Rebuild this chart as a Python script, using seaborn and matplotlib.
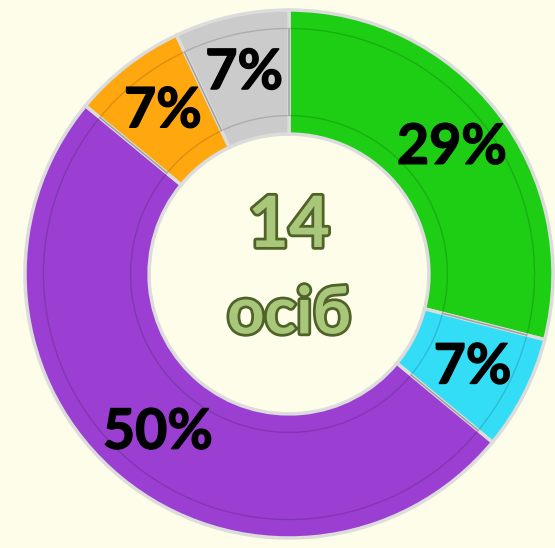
import matplotlib
matplotlib.use("Agg")
import os
import matplotlib.pyplot as plt
import matplotlib.patheffects as pe
from matplotlib import font_manager as fm
import seaborn as sns
import numpy as np

# Data
categories = ["A", "B", "C", "D", "E"]
shares = [29, 7, 50, 7, 7]
labels = ["29%", "7%", "50%", "7%", "7%"]
colors_hex = ["#1DCE14", "#33DDF6", "#9A3FD2", "#FFA70F", "#CBCBCB"]
total_people = "14"
unit_label = "осіб"

sns.set_theme(style="white")
plt.rcParams['font.family'] = ['Lato', 'DejaVu Sans']


def find_font(keys, exclude):
    for f in sorted(fm.findSystemFonts()):
        b = os.path.basename(f).lower()
        if all(k in b for k in keys) and not any(e in b for e in exclude):
            return f
    return None


bold_file = find_font(["lato", "bold"], ["italic", "semi", "extra", "hairline", "light", "black"])
if bold_file:
    label_fp = fm.FontProperties(fname=bold_file)
else:
    label_fp = fm.FontProperties(family=["Lato", "DejaVu Sans"], weight="bold", style="normal")

palette = sns.color_palette(colors_hex)
bg = "#FEFDE9"

fig = plt.figure(figsize=(5.55, 5.48), dpi=100, facecolor=bg)
W, H = 555, 548
cx, cy, R = 289, 274, 264
ax = fig.add_axes([(cx - R) / W, (cy - R) / H, 2 * R / W, 2 * R / H])
ax.set_facecolor(bg)

wedges, _ = ax.pie(shares, colors=palette, startangle=90, counterclock=False,
                   radius=1.0,
                   wedgeprops=dict(width=0.47, edgecolor="#DCDCDC", linewidth=2.5))
# subtle inner bevel line
ax.pie(shares, colors=["none"] * len(shares), startangle=90, counterclock=False,
       radius=0.93,
       wedgeprops=dict(width=0.33, edgecolor=(0, 0, 0, 0.15), linewidth=1.0))

start = 90.0
tot = sum(shares)
for s, lab in zip(shares, labels):
    ang = start - s / tot * 360 / 2
    start -= s / tot * 360
    r = 0.78
    x = r * np.cos(np.deg2rad(ang))
    y = r * np.sin(np.deg2rad(ang))
    fp = label_fp.copy()
    fp.set_size(40)
    ax.text(x, y, lab, ha="center", va="center", fontproperties=fp,
            color="black",
            path_effects=[pe.withStroke(linewidth=1.0, foreground="black")])

center_fp = label_fp.copy()
stroke = [pe.withStroke(linewidth=4, foreground="#4F6228")]
fp1 = center_fp.copy(); fp1.set_size(51)
fp2 = center_fp.copy(); fp2.set_size(47)
ax.text(0, 0.18, total_people, ha="center", va="center", fontproperties=fp1,
        color="#A9C77A", path_effects=stroke)
ax.text(0, -0.155, unit_label, ha="center", va="center", fontproperties=fp2,
        color="#A9C77A", path_effects=stroke)

ax.set_xlim(-1, 1)
ax.set_ylim(-1, 1)
ax.set_aspect("equal")
ax.axis("off")

fig.savefig("out.png", dpi=100, facecolor=bg)
